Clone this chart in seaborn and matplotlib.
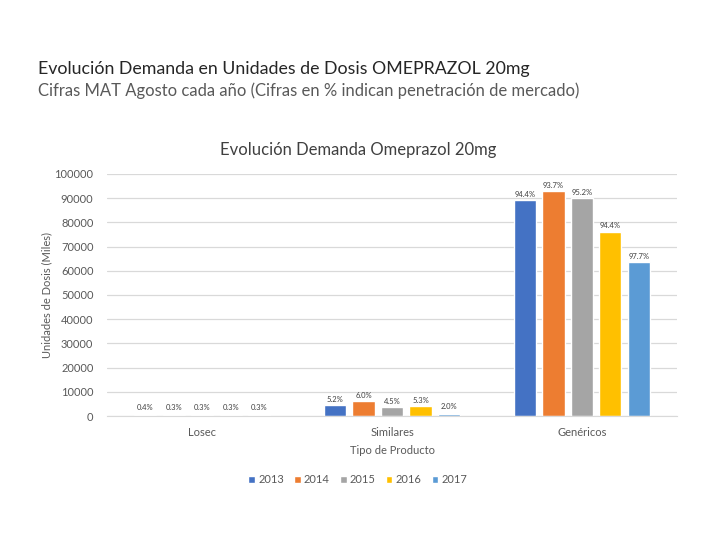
import numpy as np
import pandas as pd
import matplotlib
matplotlib.use('Agg')
import matplotlib.pyplot as plt
import seaborn as sns

# datos
productos = ['Losec', 'Similares', 'Genéricos']
anios = ['2013', '2014', '2015', '2016', '2017']
losec = [380, 300, 290, 260, 220]
similares = [4600, 6300, 3800, 4200, 950]
genericos = [89300, 93000, 90100, 76200, 63700]
pct_losec = ['0.4%', '0.3%', '0.3%', '0.3%', '0.3%']
pct_similares = ['5.2%', '6.0%', '4.5%', '5.3%', '2.0%']
pct_genericos = ['94.4%', '93.7%', '95.2%', '94.4%', '97.7%']
colores = ['#4472C4', '#ED7D31', '#A5A5A5', '#FFC000', '#5B9BD5']

filas = []
for prod, vals, pcts in zip(productos, [losec, similares, genericos],
                            [pct_losec, pct_similares, pct_genericos]):
    for a, v, p in zip(anios, vals, pcts):
        filas.append({'producto': prod, 'anio': a, 'valor': v, 'pct': p})
df = pd.DataFrame(filas)

sns.set_style('white')
plt.rcParams['font.family'] = ['Lato', 'DejaVu Sans']

fig = plt.figure(figsize=(7.2, 5.4), dpi=100)
ax = fig.add_axes([0.149, 0.2296, 0.791, 0.4484])

sns.barplot(data=df, x='producto', y='valor', hue='anio', order=productos,
            hue_order=anios, palette=colores, width=0.75, gap=0.22,
            saturation=1, ax=ax, legend=True)

# etiquetas de porcentaje
for cont, a in zip(ax.containers, anios):
    sub = df[df['anio'] == a].set_index('producto').loc[productos]
    for bar, lab, v in zip(cont, sub['pct'], sub['valor']):
        off = 1.5 if v > 2000 else 3
        ax.annotate(lab, (bar.get_x() + bar.get_width() / 2, v),
                    xytext=(0, off), textcoords='offset points',
                    ha='center', va='bottom', fontsize=5.5, color='#404040')

ax.set_ylim(0, 100000)
ax.set_xlim(-0.5, 2.5)
ax.set_yticks(np.arange(0, 100001, 10000))
ax.yaxis.grid(True, color='#D9D9D9', linewidth=0.9)
ax.set_axisbelow(True)
for s in ['top', 'right', 'left']:
    ax.spines[s].set_visible(False)
ax.spines['bottom'].set_color('#D9D9D9')
ax.tick_params(axis='both', length=0, labelsize=8, colors='#595959')
ax.tick_params(axis='y', pad=10)
ax.tick_params(axis='x', pad=8)
ax.set_xlabel('Tipo de Producto', fontsize=8, color='#595959', labelpad=5)
ax.set_ylabel('Unidades de Dosis (Miles)', fontsize=8, color='#595959')
ax.yaxis.set_label_coords(-0.097, 0.5)

fig.text(0.497, 0.722, 'Evolución Demanda Omeprazol 20mg', fontsize=12,
         color='#404040', ha='center', va='center')

leg = ax.legend(loc='upper center', bbox_to_anchor=(0.44, -0.2), ncol=5,
                frameon=False, fontsize=8, handlelength=0.6, handleheight=0.6,
                columnspacing=0.9, handletextpad=0.3)
for t in leg.get_texts():
    t.set_color('#595959')

fig.text(0.053, 0.872, 'Evolución Demanda en Unidades de Dosis OMEPRAZOL 20mg',
         fontsize=12.8, color='#262626', va='center')
fig.text(0.053, 0.832, 'Cifras MAT Agosto cada año (Cifras en % indican penetración de mercado)',
         fontsize=12, color='#595959', va='center')

fig.savefig('out.png', dpi=100)
